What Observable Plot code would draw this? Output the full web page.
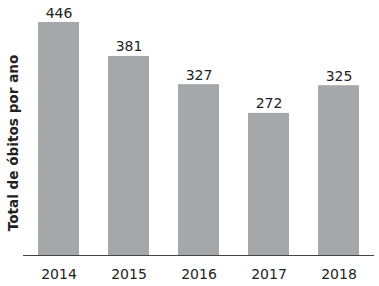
<!DOCTYPE html>
<html>
<head>
<meta charset="utf-8">
<script src="https://cdn.jsdelivr.net/npm/d3@7"></script>
<script src="https://cdn.jsdelivr.net/npm/@observablehq/plot@0.6"></script>
<style>
  html, body { margin: 0; padding: 0; background: #fff; }
</style>
</head>
<body>
<div id="chart"></div>
<script>
const years = ["2014", "2015", "2016", "2017", "2018"];
const deaths = [446, 381, 327, 272, 325];
const yLabel = "Total de óbitos por ano";

const data = years.map((year, i) => ({year, value: deaths[i]}));

const chart = Plot.plot({
  width: 379,
  height: 286,
  marginLeft: 23,
  marginRight: 5,
  marginTop: 22,
  marginBottom: 31,
  style: {fontFamily: "DejaVu Sans, Verdana, sans-serif", fontSize: "14px", color: "#222", background: "#fff"},
  x: {domain: years, paddingInner: 0.414, paddingOuter: 0.2, label: null},
  y: {domain: [0, 446], axis: null},
  marks: [
    Plot.barY(data, {x: "year", y: "value", fill: "#a6a7ab"}),
    Plot.ruleY([0], {stroke: "#444", strokeWidth: 1}),
    Plot.text(data, {x: "year", y: "value", text: d => String(d.value), lineAnchor: "bottom", dy: -5, fontSize: 14, fill: "#222"}),
    Plot.axisX({tickSize: 0, tickPadding: 14, fontSize: 14, label: null, color: "#222"}),
    Plot.text([yLabel], {frameAnchor: "left", textAnchor: "middle", rotate: -90, dx: -10, dy: 4, fontWeight: "bold", fontSize: 13.6, fill: "#222"})
  ]
});
document.getElementById("chart").appendChild(chart);
</script>
</body>
</html>
